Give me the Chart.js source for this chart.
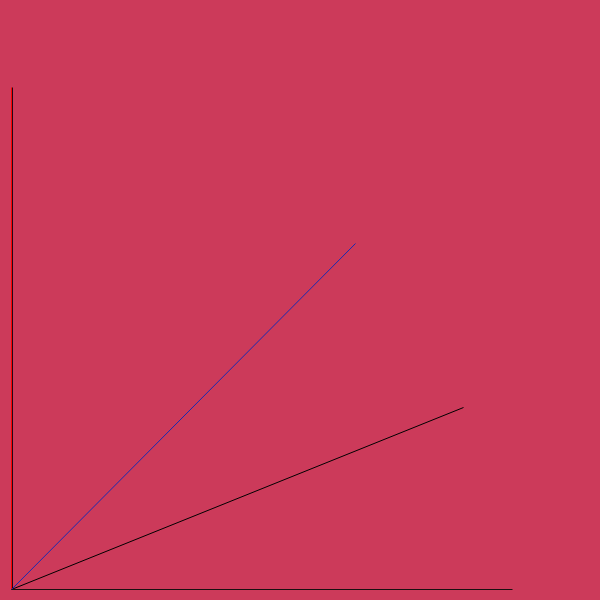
<!DOCTYPE html>
<html>
<head>
<meta charset="utf-8">
<script src="https://cdn.jsdelivr.net/npm/chart.js@4"></script>
<style>
  html, body { margin: 0; padding: 0; background: #cc3a5a; }
  canvas { display: block; }
</style>
</head>
<body>
<canvas id="chart" width="600" height="600"></canvas>
<script>
// Data (units: 1 = 50px)
const xAxisEnd = [0, 0, 10.02, 0];
const yAxisEnd = [0, 0, 0, 10.04];
const yAxisShadow = [0.02, 0, 0.02, 10.04];
const blueVector = [0, 0, 6.88, 6.92];
const blackVector = [0, 0, 9.04, 3.64];

function seg(v) {
    return [{ x: v[0], y: v[1] }, { x: v[2], y: v[3] }];
}

const ctx = document.getElementById('chart').getContext('2d');

const bgPlugin = {
    id: 'bg',
    beforeDraw(chart) {
        const c = chart.ctx;
        c.save();
        c.fillStyle = '#cc3a5a';
        c.fillRect(0, 0, chart.width, chart.height);
        c.restore();
    }
};

new Chart(ctx, {
    type: 'scatter',
    data: {
        datasets: [
            { data: seg(xAxisEnd), borderColor: '#1a1010', showLine: true, borderWidth: 1, pointRadius: 0 },
            { data: seg(blueVector), borderColor: '#1a2ab0', showLine: true, borderWidth: 1, pointRadius: 0 },
            { data: seg(blackVector), borderColor: '#000000', showLine: true, borderWidth: 1, pointRadius: 0 },
            { data: seg(yAxisShadow), borderColor: '#200818', showLine: true, borderWidth: 1, pointRadius: 0 },
            { data: seg(yAxisEnd), borderColor: '#ff0000', showLine: true, borderWidth: 1, pointRadius: 0 }
        ]
    },
    options: {
        responsive: false,
        animation: false,
        clip: false,
        layout: { padding: { left: 12, top: 0, right: 0, bottom: 10 } },
        plugins: { legend: { display: false }, tooltip: { enabled: false } },
        scales: {
            x: { type: 'linear', display: false, min: 0.01, max: 0.01 + 588 / 50 },
            y: { type: 'linear', display: false, min: -0.01, max: -0.01 + 590 / 50 }
        }
    },
    plugins: [bgPlugin]
});
</script>
</body>
</html>
